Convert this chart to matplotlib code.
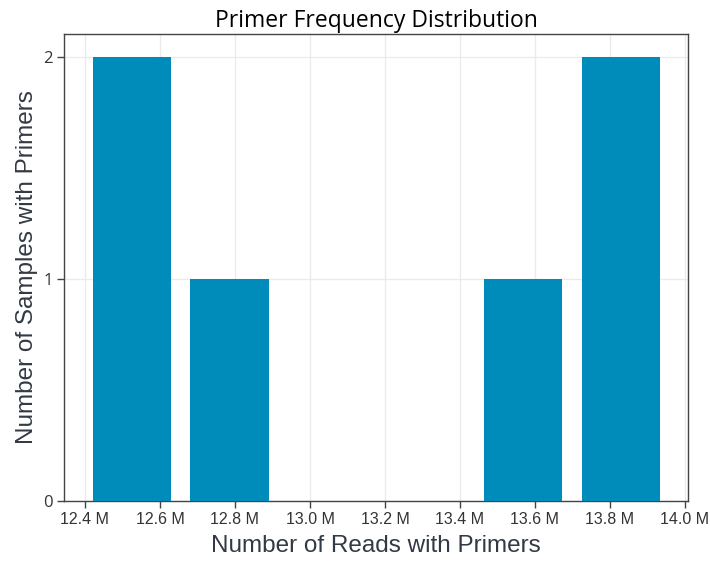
import matplotlib
matplotlib.use('Agg')
import matplotlib.pyplot as plt
from matplotlib.ticker import FuncFormatter

# histogram bins (millions of reads) and sample counts
bin_start = 12.394
bin_width = 0.261
counts = [2, 1, 0, 0, 1, 2]
x_ticks = [12.4, 12.6, 12.8, 13.0, 13.2, 13.4, 13.6, 13.8, 14.0]
y_ticks = [0, 1, 2]

centers = [bin_start + bin_width * (i + 0.5) for i in range(len(counts))]

fig = plt.figure(figsize=(7.1, 5.63), dpi=100)
ax = fig.add_axes([64 / 710, 1 - 501 / 563, (688 - 64) / 710, (501 - 34) / 563])

ax.bar(centers, counts, width=bin_width * 0.8, color='#008cba', zorder=3)

ax.set_xlim(12.344, 14.008)
ax.set_ylim(0, 2.105)
ax.set_xticks(x_ticks)
ax.set_yticks(y_ticks)
ax.xaxis.set_major_formatter(FuncFormatter(lambda v, p: f'{v:.1f} M'))
ax.grid(True, color='#ebebeb', linewidth=1, zorder=0)

for s in ax.spines.values():
    s.set_color('#444444')
    s.set_linewidth(1)

ax.tick_params(axis='both', length=5, width=1, color='#444444',
               labelsize=12, labelcolor='#333333', pad=3)
for lbl in ax.get_xticklabels():
    lbl.set_family('Liberation Sans')
    lbl.set_fontsize(11.5)
for lbl in ax.get_yticklabels():
    lbl.set_family('Open Sans')

ax.set_title('Primer Frequency Distribution', fontsize=16.5, family='Open Sans', pad=5)
ax.set_xlabel('Number of Reads with Primers', fontsize=17.5, family='Liberation Sans',
              color='#333a44', labelpad=6)
ax.set_ylabel('Number of Samples with Primers', fontsize=17.5, family='Liberation Sans',
              color='#333a44', labelpad=4)

fig.savefig('out.png', dpi=100)
plt.close(fig)
